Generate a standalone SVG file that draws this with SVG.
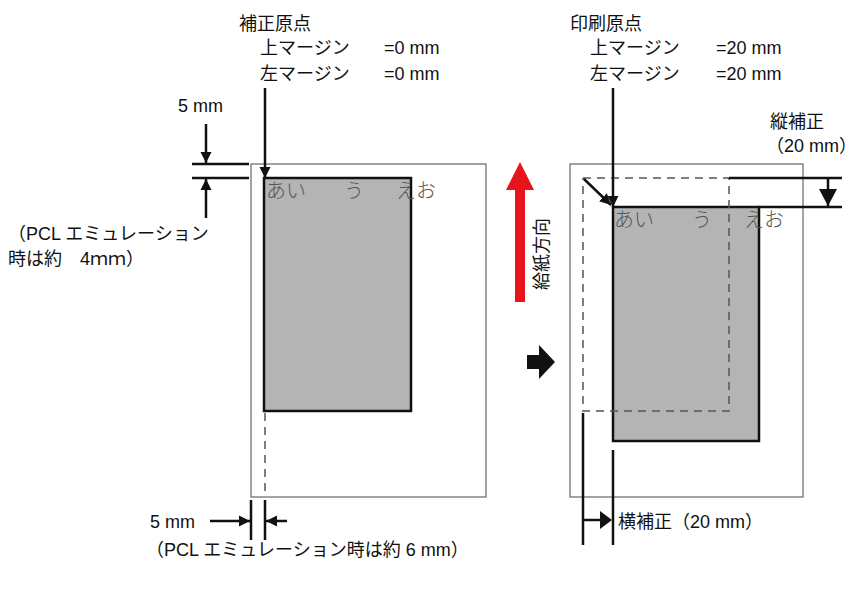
<svg xmlns="http://www.w3.org/2000/svg" width="857" height="589" viewBox="0 0 857 589">
<style>
text{font-family:"Liberation Sans","Noto Sans CJK JP",sans-serif;font-size:18px;fill:#111}
.kana{font-family:"Noto Sans CJK JP",sans-serif;font-weight:300;font-size:20px;fill:#555}
.page{fill:#fff;stroke:#666;stroke-width:1.2}
.gray{fill:#b4b4b4;stroke:#111;stroke-width:2.5}
.ln{stroke:#111;stroke-width:2.5;fill:none}
.dash{stroke:#555;stroke-width:1.5;stroke-dasharray:8,6;fill:none}
</style>
<defs>
<marker id="ah" viewBox="0 0 10 10" refX="10" refY="5" markerWidth="4.5" markerHeight="4.5" orient="auto"><path d="M0,0L10,5L0,10z" fill="#111"/></marker>
</defs>
<g id="left-page">
<rect class="page" x="251" y="164" width="235" height="333"/>
<rect class="gray" x="264" y="178" width="147" height="233"/>
<line class="dash" x1="265" y1="413" x2="265" y2="497"/>
<text class="kana" x="266" y="198">あい</text>
<text class="kana" x="344" y="198">う</text>
<text class="kana" x="396" y="198">えお</text>
</g>
<g id="right-page">
<rect class="page" x="570" y="164" width="233" height="333"/>
<rect class="gray" x="613" y="207" width="146" height="234"/>
<path class="dash" d="M583,178H729V411H583V178"/>
<text class="kana" x="614" y="227">あい</text>
<text class="kana" x="692" y="227">う</text>
<text class="kana" x="744" y="227">えお</text>
</g>
<g id="labels">
<text x="239" y="30">補正原点</text>
<text x="260" y="54">上マージン</text><text x="384" y="54">=0 mm</text>
<text x="260" y="80">左マージン</text><text x="384" y="80">=0 mm</text>
<text x="178" y="112">5 mm</text>
<text x="8" y="240">（PCL エミュレーション</text>
<text x="8" y="265">時は約　4ｍｍ）</text>
<text x="150" y="528">5 mm</text>
<text x="146" y="556">（PCL エミュレーション時は約 6 mm）</text>
<text x="570" y="30">印刷原点</text>
<text x="590" y="54">上マージン</text><text x="716" y="54">=20 mm</text>
<text x="590" y="80">左マージン</text><text x="716" y="80">=20 mm</text>
<text x="770" y="128">縦補正</text>
<text x="766" y="152">（20 mm）</text>
<text x="618" y="528">横補正（20 mm）</text>
<text transform="translate(548,290) rotate(-90)">給紙方向</text>
</g>
<g id="connectors">
<line class="ln" x1="265" y1="88" x2="265" y2="178" marker-end="url(#ah)"/>
<line class="ln" x1="192" y1="164" x2="249" y2="164"/>
<line class="ln" x1="192" y1="178" x2="249" y2="178"/>
<line class="ln" x1="206" y1="124" x2="206" y2="163" marker-end="url(#ah)"/>
<line class="ln" x1="206" y1="218" x2="206" y2="179" marker-end="url(#ah)"/>
<line class="ln" x1="251" y1="500" x2="251" y2="540"/>
<line class="ln" x1="265" y1="500" x2="265" y2="540"/>
<line class="ln" x1="210" y1="521" x2="250" y2="521" marker-end="url(#ah)"/>
<line class="ln" x1="287" y1="521" x2="266" y2="521" marker-end="url(#ah)"/>
<line class="ln" x1="613" y1="88" x2="613" y2="207" marker-end="url(#ah)"/>
<line class="ln" x1="584" y1="179" x2="611" y2="205" marker-end="url(#ah)"/>
<line class="ln" x1="729" y1="178" x2="842" y2="178"/>
<line class="ln" x1="759" y1="207" x2="842" y2="207"/>
<line class="ln" x1="828" y1="178" x2="828" y2="207"/>
<path d="M819,189L837,189L828,206z" fill="#111"/>
<line class="ln" x1="583" y1="413" x2="583" y2="545"/>
<line class="ln" x1="613" y1="450" x2="613" y2="545"/>
<line class="ln" x1="583" y1="520" x2="600" y2="520"/>
<path d="M600,511L612,520L600,529z" fill="#111"/>
<path d="M515,302V190H506L520,162L534,190H525V302z" fill="#e8141c"/>
<path d="M527,355H539V345L555,362L539,379V369H527z" fill="#111"/>
</g>
</svg>
